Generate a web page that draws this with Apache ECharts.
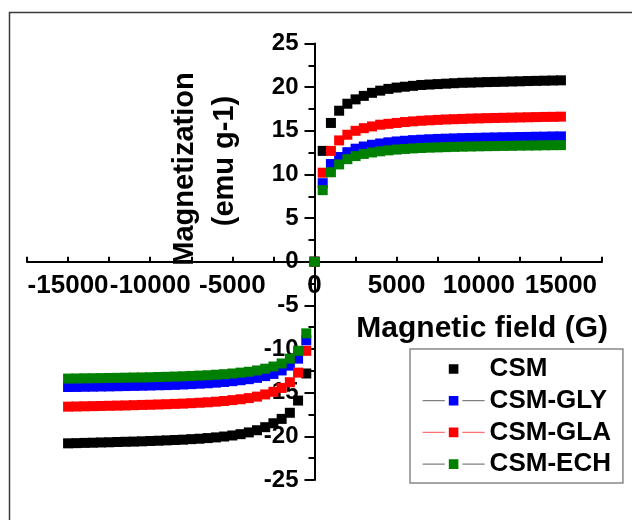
<!DOCTYPE html>
<html>
<head>
<meta charset="utf-8">
<script src="https://cdn.jsdelivr.net/npm/echarts@6/dist/echarts.min.js"></script>
<style>
  html, body { margin: 0; padding: 0; background: #fff; }
  #chart { width: 632px; height: 520px; }
</style>
</head>
<body>
<div id="chart"></div>
<script>
// applied field (G), one sweep from -15000 to 15000
var field = [
    -15000, -14500, -14000, -13500, -13000, -12500, -12000, -11500, -11000, -10500,
    -10000, -9500, -9000, -8500, -8000, -7500, -7000, -6500, -6000, -5500,
    -5000, -4500, -4000, -3500, -3000, -2500, -2000, -1500, -1000, -500,
    0,
    500, 1000, 1500, 2000, 2500, 3000, 3500, 4000, 4500, 5000,
    5500, 6000, 6500, 7000, 7500, 8000, 8500, 9000, 9500, 10000,
    10500, 11000, 11500, 12000, 12500, 13000, 13500, 14000, 14500, 15000
];

var names = ['CSM', 'CSM-GLY', 'CSM-GLA', 'CSM-ECH'];
var colors = ['#000000', '#0000ff', '#ff0000', '#008000'];
var legendLine = [null, '#808080', '#ff7070', '#808080'];

// magnetization (emu g-1)
var csm = [
    -20.8, -20.78, -20.75, -20.73, -20.7, -20.68, -20.65, -20.62, -20.6, -20.57,
    -20.53, -20.5, -20.46, -20.42, -20.38, -20.32, -20.27, -20.2, -20.12, -20.02,
    -19.9, -19.75, -19.55, -19.3, -18.95, -18.5, -18.0, -17.3, -15.9, -12.8,
    0,
    12.7, 15.9, 17.3, 18.1, 18.6, 19.0, 19.35, 19.6, 19.8, 19.95,
    20.05, 20.15, 20.25, 20.3, 20.35, 20.4, 20.45, 20.5, 20.52, 20.55,
    20.58, 20.6, 20.62, 20.65, 20.67, 20.7, 20.72, 20.74, 20.76, 20.78
];
var csmGly = [
    -14.35, -14.34, -14.32, -14.31, -14.29, -14.28, -14.26, -14.24, -14.22, -14.2,
    -14.18, -14.15, -14.13, -14.1, -14.06, -14.02, -13.97, -13.92, -13.85, -13.77,
    -13.68, -13.57, -13.45, -13.3, -13.1, -12.85, -12.45, -11.9, -11.1, -9.0,
    0,
    9.0, 11.2, 12.0, 12.55, 12.95, 13.2, 13.4, 13.55, 13.68, 13.78,
    13.86, 13.93, 13.98, 14.03, 14.07, 14.1, 14.13, 14.16, 14.18, 14.2,
    14.22, 14.24, 14.26, 14.27, 14.29, 14.3, 14.32, 14.33, 14.35, 14.36
];
var csmGla = [
    -16.6, -16.58, -16.56, -16.54, -16.52, -16.5, -16.48, -16.46, -16.43, -16.4,
    -16.38, -16.35, -16.32, -16.28, -16.25, -16.2, -16.15, -16.1, -16.03, -15.95,
    -15.85, -15.75, -15.62, -15.45, -15.2, -14.9, -14.45, -13.8, -12.7, -10.2,
    0,
    10.2, 12.7, 13.9, 14.55, 15.0, 15.3, 15.5, 15.7, 15.8, 15.9,
    16.0, 16.08, 16.15, 16.2, 16.25, 16.3, 16.33, 16.36, 16.4, 16.42,
    16.45, 16.47, 16.49, 16.51, 16.53, 16.55, 16.57, 16.59, 16.6, 16.62
];
var csmEch = [
    -13.38, -13.37, -13.35, -13.34, -13.33, -13.31, -13.3, -13.28, -13.26, -13.25,
    -13.23, -13.2, -13.18, -13.15, -13.12, -13.08, -13.04, -13.0, -12.94, -12.88,
    -12.8, -12.7, -12.6, -12.45, -12.25, -12.0, -11.65, -11.1, -10.2, -8.2,
    0,
    8.2, 10.25, 11.15, 11.75, 12.1, 12.35, 12.52, 12.65, 12.76, 12.85,
    12.92, 12.98, 13.03, 13.07, 13.1, 13.13, 13.16, 13.18, 13.2, 13.22,
    13.24, 13.25, 13.27, 13.28, 13.3, 13.31, 13.32, 13.34, 13.35, 13.36
];

var values = [csm, csmGly, csmGla, csmEch];
var font = '"Liberation Sans", Arial, sans-serif';

// plot box; axes cross at the origin, which sits in the middle of it
var gridLeft = 27, gridRight = 30, gridTop = 43.5, gridBottom = 40;
var plotW = 632 - gridLeft - gridRight;
var plotH = 520 - gridTop - gridBottom;

function pairs(ys) {
    var out = [];
    for (var i = 0; i < field.length; i++) {
        out.push([field[i], ys[i]]);
    }
    return out;
}

var chart = echarts.init(document.getElementById('chart'));

var series = [];
var legendData = [];
for (var i = 0; i < names.length; i++) {
    series.push({
        name: names[i],
        type: 'line',
        data: pairs(values[i]),
        symbol: 'rect',
        symbolSize: 10,
        showSymbol: true,
        lineStyle: { width: 0 },
        itemStyle: { color: colors[i], opacity: 1 },
        emphasis: { disabled: true },
        silent: true
    });
    legendData.push({
        name: names[i],
        // white border leaves a small gap in the legend line
        itemStyle: { color: colors[i], opacity: 1, borderColor: '#fff', borderWidth: 4 },
        // CSM has only its symbol in the legend
        lineStyle: legendLine[i]
            ? { color: legendLine[i], width: 1.2, opacity: 1 }
            : { width: 0, opacity: 0 }
    });
}

var option = {
    backgroundColor: '#ffffff',
    animation: false,
    grid: { left: gridLeft, right: gridRight, top: gridTop, bottom: gridBottom, outerBoundsMode: 'none' },
    xAxis: {
        type: 'value',
        position: 'bottom',
        offset: -plotH / 2,
        min: -17500,
        max: 17500,
        interval: 2500,
        splitLine: { show: false },
        axisLine: { onZero: false, lineStyle: { color: '#000', width: 2 } },
        axisTick: { inside: true, length: 5, lineStyle: { color: '#000', width: 2 } },
        axisLabel: {
            margin: 11,
            color: '#000',
            fontSize: 26,
            fontWeight: 'bold',
            fontFamily: font,
            formatter: function (v) {
                return v % 5000 === 0 ? String(v) : '';
            }
        }
    },
    yAxis: {
        type: 'value',
        position: 'left',
        offset: -plotW / 2,
        min: -25,
        max: 25,
        interval: 5,
        splitLine: { show: false },
        axisLine: { onZero: false, lineStyle: { color: '#000', width: 2 } },
        axisTick: { length: 10, lineStyle: { color: '#000', width: 2 } },
        minorTick: { show: true, splitNumber: 2, length: 6, lineStyle: { color: '#000', width: 2 } },
        axisLabel: {
            margin: 16,
            color: '#000',
            fontSize: 24,
            fontWeight: 'bold',
            fontFamily: font
        }
    },
    legend: {
        orient: 'vertical',
        left: 410,
        top: 349,
        padding: [7, 12, 6, 12],
        itemWidth: 62,
        itemHeight: 17,
        itemGap: 5.7,
        borderColor: '#888',
        borderWidth: 1.5,
        borderRadius: 0,
        selectedMode: false,
        textStyle: {
            color: '#000',
            fontSize: 26,
            lineHeight: 26,
            fontWeight: 'bold',
            fontFamily: font
        },
        data: legendData
    },
    graphic: [
        {
            type: 'rect',
            silent: true,
            shape: { x: 9.5, y: 12.5, width: 700, height: 700 },
            style: { fill: 'none', stroke: '#3a3a3a', lineWidth: 1.5 }
        },
        {
            type: 'text',
            x: 185,
            y: 169,
            rotation: Math.PI / 2,
            style: {
                text: 'Magnetization',
                x: 0, y: 0,
                align: 'center',
                verticalAlign: 'middle',
                fill: '#000',
                font: 'bold 29px ' + font
            }
        },
        {
            type: 'text',
            x: 225,
            y: 161,
            rotation: Math.PI / 2,
            style: {
                text: '(emu g-1)',
                x: 0, y: 0,
                align: 'center',
                verticalAlign: 'middle',
                fill: '#000',
                font: 'bold 29px ' + font
            }
        },
        {
            type: 'text',
            x: 608,
            y: 329,
            style: {
                text: 'Magnetic field (G)',
                x: 0, y: 0,
                align: 'right',
                verticalAlign: 'middle',
                fill: '#000',
                font: 'bold 30px ' + font
            }
        }
    ],
    series: series
};

chart.setOption(option);
</script>
</body>
</html>
